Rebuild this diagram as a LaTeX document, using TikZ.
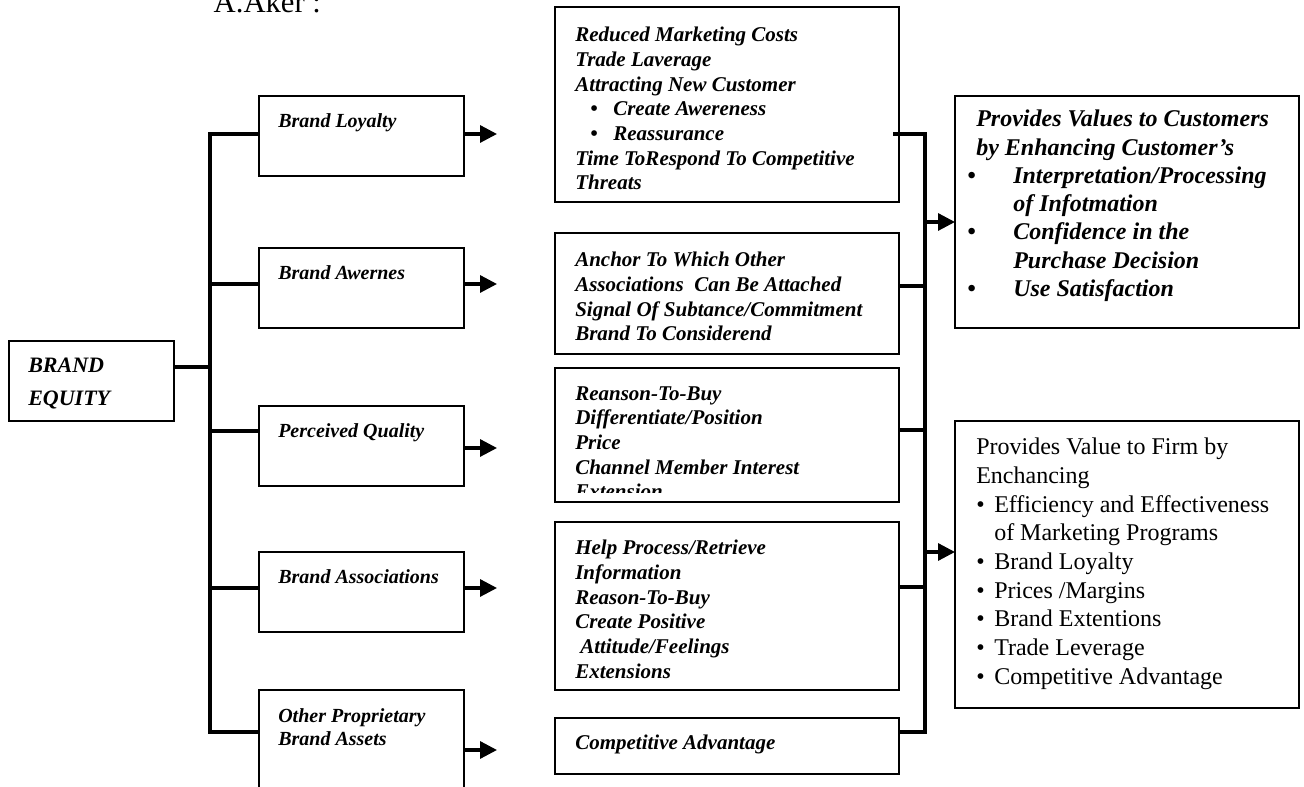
\documentclass[tikz,border=0pt]{standalone}
\usepackage{fontspec}
\setmainfont{Liberation Serif}
\usetikzlibrary{arrows.meta}
\newcommand{\blt}[1]{\makebox[#1][l]{\textbullet}}

\tikzset{
  bx/.style 2 args={draw, line width=0.8pt, minimum width=#1*0.75pt, minimum height=#2*0.75pt, anchor=north west, inner sep=0pt, outer sep=0pt},
  conn/.style={line width=2.4pt},
  arr/.style={conn, -{Triangle[length=12.75pt,width=12.75pt]}},
  lt/.style={anchor=north west, inner sep=0pt, align=left, font=\bfseries\itshape\fontsize{15}{17.6}\selectfont},
  mt/.style={anchor=north west, inner sep=0pt, align=left, font=\bfseries\itshape\fontsize{15.75}{18.5}\selectfont},
  rt/.style={anchor=north west, inner sep=0pt, align=left, font=\bfseries\itshape\fontsize{18}{21.2}\selectfont},
  ft/.style={anchor=north west, inner sep=0pt, align=left, font=\fontsize{18}{21.5}\selectfont}
}

\begin{document}
\begin{tikzpicture}[x=0.75pt,y=0.75pt,yscale=-1,xscale=1]
\useasboundingbox (0,0) rectangle (1304,787);
% Text Node
\draw (209,13) node [anchor=base west, font=\fontsize{23}{27}\selectfont] (ttl) {A.Aker :};
%Shape: Rectangle
\draw (9,341) node [bx={165}{80}] (eq) {};
\draw (28,358) node [lt, font=\bfseries\itshape\fontsize{16.5}{24.75}\selectfont] (eqt) {BRAND\\EQUITY};
%Shape: Rectangle
\draw (259,96) node [bx={205}{80}] (lo) {};
\draw (259,248) node [bx={205}{80}] (aw) {};
\draw (259,406) node [bx={205}{80}] (pq) {};
\draw (259,552) node [bx={205}{80}] (as) {};
\draw (259,690) node [bx={205}{120}] (ot) {};
% Text Node
\draw (278,113) node [lt] (lot) {Brand Loyalty};
\draw (278,265) node [lt] (awt) {Brand Awernes};
\draw (278,423) node [lt] (pqt) {Perceived Quality};
\draw (278,569) node [lt] (ast) {Brand Associations};
\draw (278,708) node [lt] (ott) {Other Proprietary\\Brand Assets};
%Shape: Rectangle
\draw (555,7) node [bx={344}{195}] (m1) {};
\draw (555,233) node [bx={344}{121}] (m2) {};
\draw (555,368) node [bx={344}{134}] (m3) {};
\draw (555,522) node [bx={344}{168}] (m4) {};
\draw (555,718) node [bx={344}{56}] (m5) {};
% Text Node
\draw (575,27) node [mt] (m1t) {Reduced Marketing Costs\\Trade Laverage\\Attracting New Customer\\
  \hspace*{11.25pt}\blt{17.25pt}Create Awereness\\\hspace*{11.25pt}\blt{17.25pt}Reassurance\\
  Time ToRespond To Competitive\\Threats};
\draw (575,252) node [mt] (m2t) {Anchor To Which Other\\Associations~ Can Be Attached\\Signal Of Subtance/Commitment\\Brand To Considerend};
\begin{scope}
\clip (m3.north west) rectangle ([yshift=-7pt]m3.south east);
\draw (575,386) node [mt] (m3t) {Reanson-To-Buy\\Differentiate/Position\\Price\\Channel Member Interest\\Extension};
\end{scope}
\draw (575,540) node [mt] (m4t) {Help Process/Retrieve\\Information\\Reason-To-Buy\\Create Positive\\\hspace*{3.75pt}Attitude/Feelings\\Extensions};
\draw (575,735) node [mt] (m5t) {Competitive Advantage};
%Shape: Rectangle
\draw (955,96) node [bx={344}{232}] (c1) {};
\draw (955,421) node [bx={344}{287}] (c2) {};
% Text Node
\draw (967,110) node [rt] (c1t) {\hspace*{6.75pt}Provides Values to Customers\\\hspace*{6.75pt}by Enhancing Customer’s\\
  \blt{34.5pt}Interpretation/Processing\\\hspace*{34.5pt}of Infotmation\\
  \blt{34.5pt}Confidence in the\\\hspace*{34.5pt}Purchase Decision\\
  \blt{34.5pt}Use Satisfaction};
\draw (976,438) node [ft] (c2t) {Provides Value to Firm by\\Enchancing\\
  \blt{13.5pt}Efficiency and Effectiveness\\\hspace*{13.5pt}of Marketing Programs\\
  \blt{13.5pt}Brand Loyalty\\\blt{13.5pt}Prices /Margins\\\blt{13.5pt}Brand Extentions\\
  \blt{13.5pt}Trade Leverage\\\blt{13.5pt}Competitive Advantage};
%Straight Lines
\coordinate (eqo) at (174,367);
\coordinate (b1) at (210,134);
\coordinate (b2) at (210,284);
\coordinate (b3) at (210,431);
\coordinate (b4) at (210,588);
\coordinate (b5) at (210,732);
\draw [conn] (eqo) -- (eqo -| b1);
\draw [conn] (lo.west |- b1) -- (b1) -- (b5) -- (ot.west |- b5);
\draw [conn] (b2) -- (aw.west |- b2);
\draw [conn] (b3) -- (pq.west |- b3);
\draw [conn] (b4) -- (as.west |- b4);
%Straight Lines
\coordinate (a1) at (497,134);
\coordinate (a2) at (497,284);
\coordinate (a3) at (497,448);
\coordinate (a4) at (497,588);
\coordinate (a5) at (497,750);
\draw [arr] (a1 -| lo.east) -- (a1);
\draw [arr] (a2 -| aw.east) -- (a2);
\draw [arr] (a3 -| pq.east) -- (a3);
\draw [arr] (a4 -| as.east) -- (a4);
\draw [arr] (a5 -| ot.east) -- (a5);
%Straight Lines
\coordinate (r1) at (925,134);
\coordinate (r2) at (925,286);
\coordinate (r3) at (925,430);
\coordinate (r4) at (925,587);
\coordinate (r5) at (925,732);
\draw [conn] ([xshift=-4.5pt]m1.east |- r1) -- (r1) -- (r5) -- (m5.east |- r5);
\draw [conn] (m2.east |- r2) -- (r2);
\draw [conn] (m3.east |- r3) -- (r3);
\draw [conn] (m4.east |- r4) -- (r4);
\coordinate (ra) at (925,222);
\coordinate (rb) at (925,552);
\draw [arr] (ra) -- (ra -| c1.west);
\draw [arr] (rb) -- (rb -| c2.west);
\end{tikzpicture}
\end{document}
